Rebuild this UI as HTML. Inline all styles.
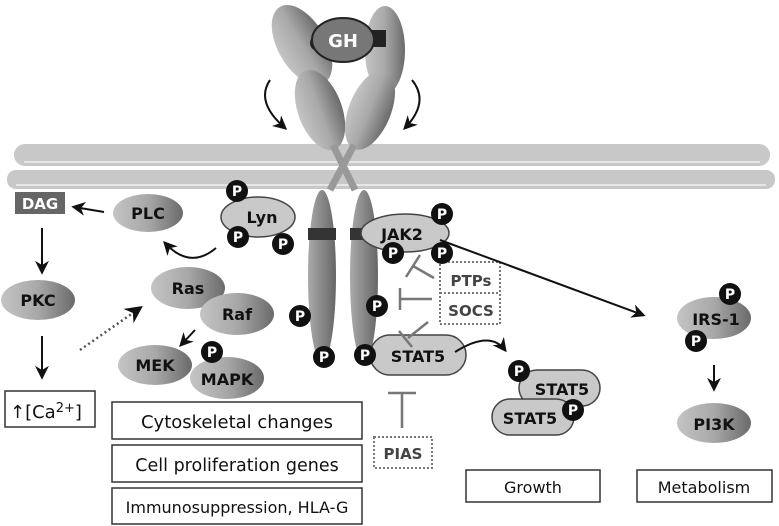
<!DOCTYPE html>
<html><head><style>
body{margin:0;background:#fff}
svg{display:block}
text{font-family:"DejaVu Sans","Liberation Sans",sans-serif;font-weight:bold;fill:#111}
.n{font-weight:normal}
</style></head><body>
<svg width="779" height="526" viewBox="0 0 779 526" xmlns="http://www.w3.org/2000/svg">
<defs>
<linearGradient id="g" x1="0" x2="1" y1="0" y2="0"><stop offset="0" stop-color="#c4c4c4"/><stop offset="0.5" stop-color="#a8a8a8"/><stop offset="1" stop-color="#6a6a6a"/></linearGradient>
<linearGradient id="gv" x1="0" x2="1"><stop offset="0" stop-color="#aaa"/><stop offset="1" stop-color="#666"/></linearGradient>
<marker id="a" viewBox="0 0 10 10" refX="8" refY="5" markerWidth="7" markerHeight="7" orient="auto"><path d="M0,0 L10,5 L0,10 L3,5z" fill="#111"/></marker>
</defs>
<!-- membrane -->
<rect x="14" y="144" width="756" height="22" rx="11" fill="#c8c8c8"/>
<rect x="7" y="170" width="768" height="19" rx="9" fill="#c8c8c8"/>
<line x1="24" y1="162" x2="760" y2="162" stroke="#e6e6e6" stroke-width="2"/>
<line x1="16" y1="185" x2="766" y2="185" stroke="#e6e6e6" stroke-width="2"/>
<!-- extracellular receptor -->
<ellipse cx="302" cy="45" rx="24" ry="44" transform="rotate(-30 302 45)" fill="url(#g)"/>
<ellipse cx="320" cy="110" rx="22" ry="42" transform="rotate(-20 320 110)" fill="url(#g)"/>
<ellipse cx="385" cy="50" rx="20" ry="44" fill="url(#g)"/>
<ellipse cx="370" cy="110" rx="21" ry="42" transform="rotate(22 370 110)" fill="url(#g)"/>
<path d="M333,145 L355,190 M354,145 L330,190" stroke="#999" stroke-width="7"/>
<rect x="310" y="35" width="16" height="16" rx="8" fill="#222"/>
<rect x="366" y="30" width="20" height="17" fill="#222"/>
<ellipse cx="343" cy="40" rx="31" ry="22" fill="#777" stroke="#222" stroke-width="2"/>
<text x="343" y="47" font-size="18" text-anchor="middle" style="fill:#fff">GH</text>
<path d="M270,80 Q255,102 285,128" fill="none" stroke="#111" stroke-width="2" marker-end="url(#a)"/>
<path d="M412,80 Q430,102 405,128" fill="none" stroke="#111" stroke-width="2" marker-end="url(#a)"/>
<!-- intracellular receptor -->
<ellipse cx="322" cy="276" rx="14" ry="86" fill="url(#gv)"/>
<ellipse cx="364" cy="276" rx="14" ry="86" fill="url(#gv)"/>
<rect x="308" y="228" width="28" height="12" fill="#333"/>
<rect x="350" y="228" width="28" height="12" fill="#333"/>
<!-- Lyn -->
<ellipse cx="258" cy="217" rx="37" ry="20" fill="#c9c9c9" stroke="#444" stroke-width="1.5"/>
<text x="262" y="223" font-size="16" text-anchor="middle">Lyn</text>
<!-- JAK2 -->
<ellipse cx="405" cy="233" rx="44" ry="19" fill="#c9c9c9" stroke="#444" stroke-width="1.5"/>
<text x="402" y="240" font-size="16" text-anchor="middle">JAK2</text>
<!-- STAT5 -->
<rect x="370" y="335" width="96" height="40" rx="20" fill="#c9c9c9" stroke="#444" stroke-width="1.5"/>
<text x="418" y="362" font-size="16" text-anchor="middle">STAT5</text>
<!-- PTPs SOCS -->
<rect x="440" y="262" width="60" height="62" fill="none" stroke="#777" stroke-width="2" stroke-dasharray="2,2"/>
<line x1="440" y1="293" x2="500" y2="293" stroke="#777" stroke-width="2" stroke-dasharray="2,2"/>
<text x="471" y="286" font-size="15" text-anchor="middle" style="fill:#444">PTPs</text>
<text x="471" y="316" font-size="15" text-anchor="middle" style="fill:#444">SOCS</text>
<g stroke="#777" stroke-width="2.5" fill="none">
<path d="M434,278 L413,266 M406,277 L420,255"/>
<path d="M432,299 L400,299 M400,288 L400,310"/>
<path d="M428,322 L408,338 M399,331 L412,347"/>
<path d="M388,393 L416,393 M402,393 L402,428"/>
</g>
<rect x="374" y="437" width="58" height="31" fill="none" stroke="#777" stroke-width="2" stroke-dasharray="2,2"/>
<text x="403" y="459" font-size="15" text-anchor="middle" style="fill:#444">PIAS</text>
<!-- left side -->
<rect x="15" y="192" width="50" height="22" fill="#666"/>
<text x="40" y="209" font-size="15" text-anchor="middle" style="fill:#fff">DAG</text>
<ellipse cx="148" cy="213" rx="35" ry="19" fill="url(#g)"/>
<text x="148" y="219" font-size="16" text-anchor="middle">PLC</text>
<line x1="104" y1="212" x2="74" y2="207" stroke="#111" stroke-width="2" marker-end="url(#a)"/>
<path d="M216,248 Q190,270 165,243" fill="none" stroke="#111" stroke-width="2" marker-end="url(#a)"/>
<line x1="42" y1="228" x2="42" y2="272" stroke="#111" stroke-width="2" marker-end="url(#a)"/>
<ellipse cx="38" cy="300" rx="37" ry="20" fill="url(#g)"/>
<text x="38" y="306" font-size="16" text-anchor="middle">PKC</text>
<line x1="42" y1="336" x2="42" y2="377" stroke="#111" stroke-width="2" marker-end="url(#a)"/>
<rect x="5" y="391" width="90" height="36" fill="#fff" stroke="#333" stroke-width="1.5"/>
<text x="10" y="418" font-size="18" class="n">↑[Ca<tspan font-size="13" dy="-6">2+</tspan><tspan dy="6">]</tspan></text>
<line x1="80" y1="350" x2="140" y2="308" stroke="#555" stroke-width="2.5" stroke-dasharray="2,3" marker-end="url(#a)"/>
<ellipse cx="188" cy="288" rx="37" ry="21" fill="url(#g)"/>
<text x="188" y="294" font-size="16" text-anchor="middle">Ras</text>
<ellipse cx="237" cy="314" rx="37" ry="21" fill="url(#g)"/>
<text x="237" y="320" font-size="16" text-anchor="middle">Raf</text>
<line x1="195" y1="330" x2="181" y2="345" stroke="#111" stroke-width="2" marker-end="url(#a)"/>
<ellipse cx="155" cy="365" rx="37" ry="20" fill="url(#g)"/>
<text x="155" y="371" font-size="16" text-anchor="middle">MEK</text>
<ellipse cx="227" cy="378" rx="37" ry="21" fill="url(#g)"/>
<text x="227" y="385" font-size="16" text-anchor="middle">MAPK</text>
<!-- boxes -->
<g fill="#fff" stroke="#333" stroke-width="1.5">
<rect x="112" y="402" width="250" height="37"/>
<rect x="112" y="445" width="250" height="37"/>
<rect x="112" y="488" width="250" height="36"/>
<rect x="466" y="470" width="134" height="32"/>
<rect x="637" y="470" width="135" height="32"/>
</g>
<text x="237" y="428" font-size="18" text-anchor="middle" class="n">Cytoskeletal changes</text>
<text x="237" y="471" font-size="17.5" text-anchor="middle" class="n">Cell proliferation genes</text>
<text x="237" y="513" font-size="16" text-anchor="middle" class="n">Immunosuppression, HLA-G</text>
<text x="533" y="493" font-size="16" text-anchor="middle" class="n">Growth</text>
<text x="704" y="493" font-size="16" text-anchor="middle" class="n">Metabolism</text>
<!-- right side -->
<line x1="440" y1="240" x2="643" y2="315" stroke="#111" stroke-width="2" marker-end="url(#a)"/>
<path d="M455,352 Q490,330 505,350" fill="none" stroke="#111" stroke-width="2" marker-end="url(#a)"/>
<rect x="519" y="370" width="81" height="36" rx="18" fill="#c9c9c9" stroke="#444" stroke-width="1.5"/>
<text x="562" y="395" font-size="16" text-anchor="middle">STAT5</text>
<rect x="492" y="399" width="82" height="36" rx="18" fill="#c9c9c9" stroke="#444" stroke-width="1.5"/>
<text x="530" y="424" font-size="16" text-anchor="middle">STAT5</text>
<ellipse cx="714" cy="318" rx="37" ry="21" fill="url(#g)"/>
<text x="716" y="325" font-size="16" text-anchor="middle">IRS-1</text>
<line x1="714" y1="365" x2="714" y2="389" stroke="#111" stroke-width="2" marker-end="url(#a)"/>
<ellipse cx="714" cy="423" rx="37" ry="20" fill="url(#g)"/>
<text x="714" y="430" font-size="16" text-anchor="middle">PI3K</text>
<!-- P circles -->
<g font-size="14">
<g><circle cx="237" cy="191" r="11" fill="#111"/><text x="237" y="196" text-anchor="middle" style="fill:#fff">P</text></g>
<g><circle cx="238" cy="237" r="11" fill="#111"/><text x="238" y="242" text-anchor="middle" style="fill:#fff">P</text></g>
<g><circle cx="283" cy="244" r="11" fill="#111"/><text x="283" y="249" text-anchor="middle" style="fill:#fff">P</text></g>
<g><circle cx="442" cy="214" r="11" fill="#111"/><text x="442" y="219" text-anchor="middle" style="fill:#fff">P</text></g>
<g><circle cx="393" cy="253" r="11" fill="#111"/><text x="393" y="258" text-anchor="middle" style="fill:#fff">P</text></g>
<g><circle cx="442" cy="253" r="11" fill="#111"/><text x="442" y="258" text-anchor="middle" style="fill:#fff">P</text></g>
<g><circle cx="377" cy="306" r="11" fill="#111"/><text x="377" y="311" text-anchor="middle" style="fill:#fff">P</text></g>
<g><circle cx="300" cy="316" r="11" fill="#111"/><text x="300" y="321" text-anchor="middle" style="fill:#fff">P</text></g>
<g><circle cx="324" cy="357" r="11" fill="#111"/><text x="324" y="362" text-anchor="middle" style="fill:#fff">P</text></g>
<g><circle cx="365" cy="355" r="11" fill="#111"/><text x="365" y="360" text-anchor="middle" style="fill:#fff">P</text></g>
<g><circle cx="212" cy="352" r="11" fill="#111"/><text x="212" y="357" text-anchor="middle" style="fill:#fff">P</text></g>
<g><circle cx="519" cy="371" r="11" fill="#111"/><text x="519" y="376" text-anchor="middle" style="fill:#fff">P</text></g>
<g><circle cx="573" cy="410" r="11" fill="#111"/><text x="573" y="415" text-anchor="middle" style="fill:#fff">P</text></g>
<g><circle cx="730" cy="294" r="11" fill="#111"/><text x="730" y="299" text-anchor="middle" style="fill:#fff">P</text></g>
<g><circle cx="696" cy="341" r="11" fill="#111"/><text x="696" y="346" text-anchor="middle" style="fill:#fff">P</text></g>
</g>
</svg>
</body></html>
